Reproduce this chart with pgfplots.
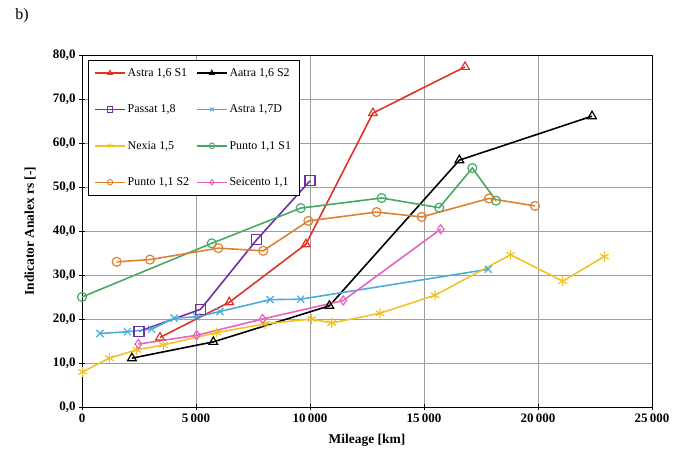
\documentclass[border=0pt]{standalone}
\usepackage{pgfplots}
\pgfplotsset{compat=1.18}
\usepackage{fontspec}
\setmainfont{Liberation Serif}
\definecolor{cred}{RGB}{222,52,40}
\definecolor{cpurple}{RGB}{112,48,160}
\definecolor{cblue}{RGB}{75,172,220}
\definecolor{cyellow}{RGB}{240,195,40}
\definecolor{cgreen}{RGB}{70,170,100}
\definecolor{corange}{RGB}{222,130,50}
\definecolor{cpink}{RGB}{230,100,190}
\begin{document}
\begin{tikzpicture}
\path[use as bounding box] (-82bp,-47bp) rectangle (600bp,407bp);
\node[anchor=center, font=\fontsize{16}{18}\selectfont] at (-60bp,391bp) {b)};
\begin{axis}[
  scale only axis, width=570bp, height=352bp,
  xmin=0, xmax=25000, ymin=0, ymax=80,
  xtick={0,5000,...,25000}, ytick={0,10,...,80},
  grid=major, major grid style={gray!75, line width=0.7pt},
  tick align=center, xtick pos=left, ytick pos=left,
  axis line style={black, line width=0.9pt},
  major tick length=6bp,
  tick style={black, line width=0.9pt},
  ticklabel style={font=\fontsize{13}{15}\selectfont\bfseries},
  /pgf/number format/assume math mode=true,
  scaled ticks=false,
  y tick label style={/pgf/number format/.cd, fixed, fixed zerofill, precision=1, use comma},
  x tick label style={/pgf/number format/.cd, 1000 sep={\,}},
  xlabel={Mileage [km]}, ylabel={Indicator Analex rs [-]},
  label style={font=\fontsize{13.5}{15}\selectfont\bfseries},
  xlabel style={at={(axis description cs:0.5,-0.094)}, anchor=center},
  ylabel style={at={(axis description cs:-0.091,0.5)}, anchor=center},
  clip=false,
  legend columns=2,
  legend cell align=left,
  legend style={at={(axis description cs:0.0105,0.986)}, anchor=north west, draw=black, line width=0.7pt,
    font=\fontsize{12}{13}\selectfont, row sep=23bp, inner sep=6bp,
    /tikz/every even column/.append style={column sep=5bp}},
  legend image code/.code={\draw[mark repeat=2,mark phase=2,#1,line width=1.4pt,mark size=2.8pt,mark options={solid,fill=white,line width=0.9pt}] plot coordinates {(0bp,0bp)(15bp,0bp)(30bp,0bp)};},
  every axis plot/.append style={line width=1.6pt, mark options={solid, fill=white, line width=1.2pt}},
]
\addplot[cred, mark=triangle, mark size=5] coordinates {(3420,15.8)(6460,23.8)(9820,37.0)(12760,66.8)(16800,77.3)};
\addlegendentry{Astra 1,6 S1}
\addplot[black, mark=triangle, mark size=5] coordinates {(2190,11.1)(5760,14.8)(10850,23.0)(16550,56.1)(22370,66.1)};
\addlegendentry{Aatra 1,6 S2}
\addplot[cpurple, mark=square, mark size=5] coordinates {(2500,17.2)(5200,22.2)(7660,38.0)(10000,51.4)};
\addlegendentry{Passat 1,8}
\addplot[cblue, mark=x, mark size=5] coordinates {(790,16.7)(1990,17.1)(3060,17.7)(4040,20.2)(5030,20.5)(6050,21.7)(8250,24.4)(9590,24.5)(17820,31.3)};
\addlegendentry{Astra 1,7D}
\addplot[cyellow, mark=asterisk, mark size=5] coordinates {(30,8.0)(1200,11.1)(2400,13.0)(3570,14.1)(5900,16.9)(8030,18.9)(10070,20.0)(10950,19.1)(13070,21.3)(15480,25.4)(18800,34.6)(21080,28.6)(22910,34.2)};
\addlegendentry{Nexia 1,5}
\addplot[cgreen, mark=o, mark size=4.5] coordinates {(0,25.0)(5690,37.2)(9590,45.2)(13140,47.5)(15670,45.3)(17120,54.3)(18160,46.9)};
\addlegendentry{Punto 1,1 S1}
\addplot[corange, mark=o, mark size=4.5] coordinates {(1520,33.0)(2980,33.5)(5980,36.1)(7950,35.5)(9930,42.3)(12920,44.3)(14900,43.2)(17850,47.4)(19870,45.7)};
\addlegendentry{Punto 1,1 S2}
\addplot[cpink, mark=diamond, mark size=4.5] coordinates {(2470,14.3)(5030,16.3)(7920,20.0)(11460,24.2)(15730,40.4)};
\addlegendentry{Seicento 1,1}
\end{axis}
\end{tikzpicture}
\end{document}
